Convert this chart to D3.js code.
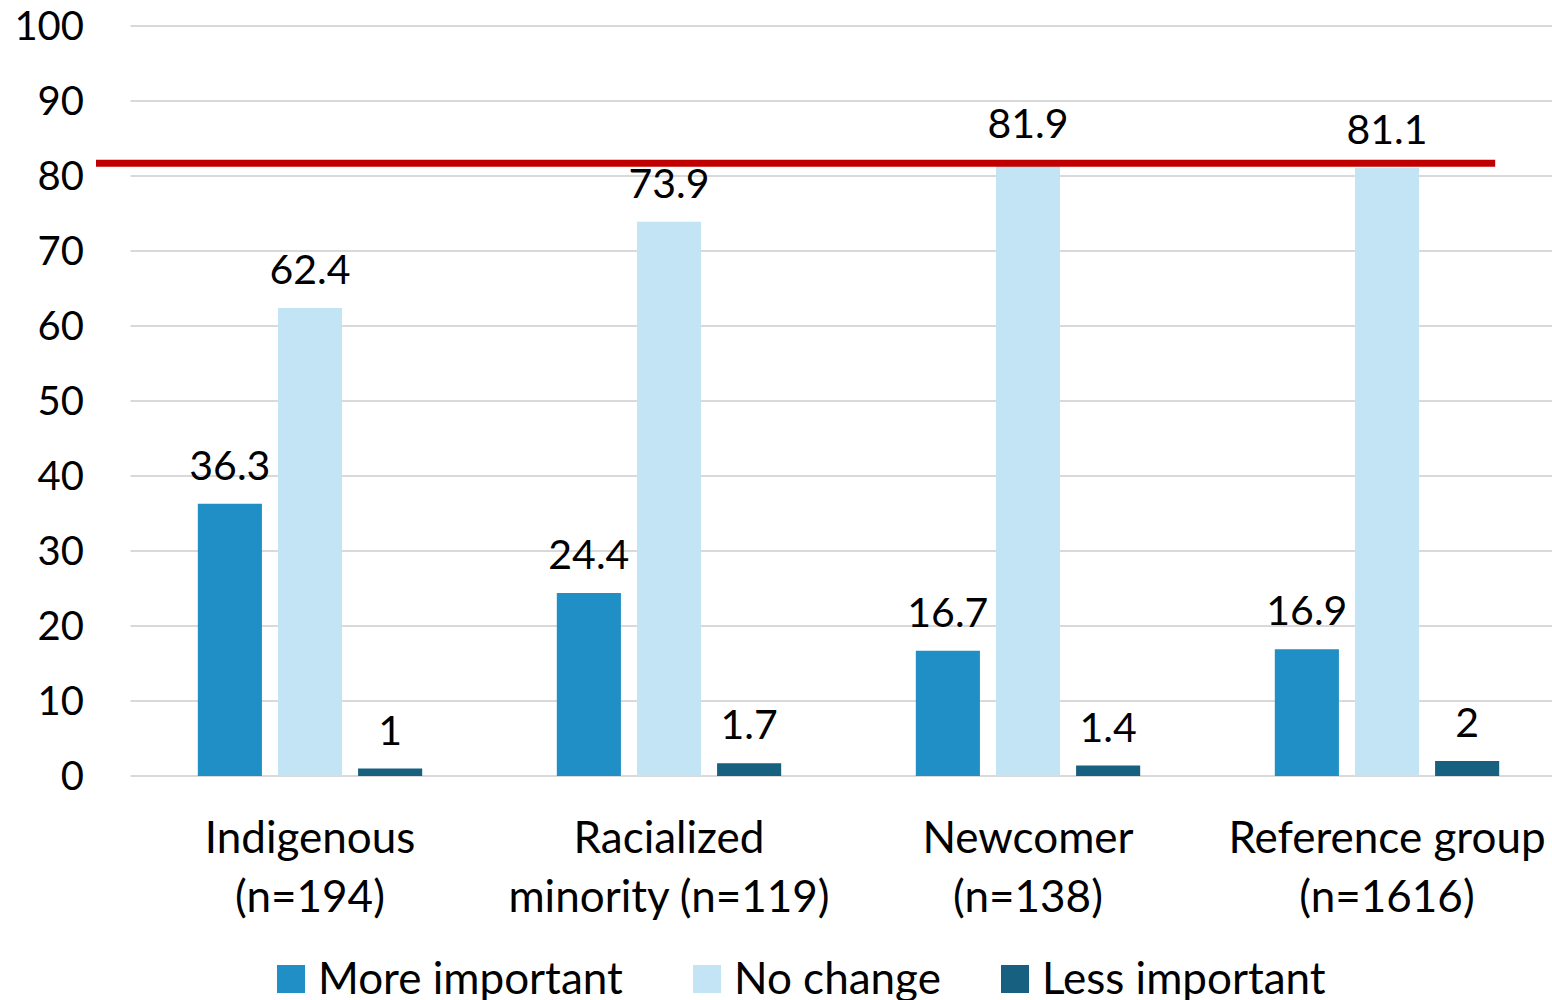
<!DOCTYPE html>
<html><head><meta charset="utf-8">
<script src="https://cdn.jsdelivr.net/npm/d3@7"></script>
<style>
body{margin:0;background:#fff;}
text{font-family:Lato,"Open Sans",sans-serif;fill:#000;}
</style></head>
<body><svg id="c" width="1552" height="1000"></svg>
<script>
const categories = [["Indigenous","(n=194)"],["Racialized","minority (n=119)"],["Newcomer","(n=138)"],["Reference group","(n=1616)"]];
const seriesNames = ["More important","No change","Less important"];
const moreImportant = [36.3, 24.4, 16.7, 16.9];
const noChange = [62.4, 73.9, 81.9, 81.1];
const lessImportant = [1, 1.7, 1.4, 2];
const yTicks = [0,10,20,30,40,50,60,70,80,90,100];
const referenceValue = 81.7;
const colors = ["#1F8FC5","#C2E4F4","#17607F"];

const series = [moreImportant, noChange, lessImportant];
const svg = d3.select("#c");
const m = {left:130.5, top:26, bottom:776};
const x = d3.scaleBand().domain(d3.range(categories.length)).range([m.left, m.left + 359*4]).padding(0);
const xi = d3.scaleBand().domain(d3.range(series.length)).range([0, x.bandwidth()]).paddingInner(0.2).paddingOuter(0.84);
const y = d3.scaleLinear().domain([0,100]).range([m.bottom, m.top]);

// gridlines
svg.append("g").selectAll("line").data(yTicks).join("line")
  .attr("x1", m.left).attr("x2", 1552)
  .attr("y1", d=>y(d)).attr("y2", d=>y(d))
  .attr("stroke", "#D9D9D9").attr("stroke-width", 2);

// y labels
svg.append("g").selectAll("text").data(yTicks).join("text")
  .attr("x", 84).attr("y", d=>y(d)).attr("dy","0.36em")
  .attr("text-anchor","end").attr("font-size",40).text(d=>d);

// bars
series.forEach((s, si) => {
  const g = svg.append("g");
  g.selectAll("rect").data(s).join("rect")
    .attr("x", (d,i)=>x(i)+xi(si)).attr("width", xi.bandwidth())
    .attr("y", d=>y(d)).attr("height", d=>y(0)-y(d))
    .attr("fill", colors[si]);
  g.selectAll("text").data(s).join("text")
    .attr("x", (d,i)=>x(i)+xi(si)+xi.bandwidth()/2)
    .attr("y", d=>y(d)-24)
    .attr("text-anchor","middle").attr("font-size",41)
    .text(d=>d);
});

// reference line
const lastRight = x(categories.length-1) + xi(series.length-1) + xi.bandwidth();
svg.append("line")
  .attr("x1", m.left-34.5).attr("x2", lastRight-4)
  .attr("y1", y(referenceValue)).attr("y2", y(referenceValue))
  .attr("stroke","#C00000").attr("stroke-width",7);

// category labels
const cat = svg.append("g").selectAll("text").data(categories).join("text")
  .attr("text-anchor","middle").attr("font-size",44);
cat.each(function(d,i){
  const t = d3.select(this);
  d.forEach((line, li) => {
    t.append("tspan").attr("x", x(i)+x.bandwidth()/2).attr("y", 853 + li*59).text(line);
  });
});

// legend
const legX = [277, 693, 1001];
const lg = svg.append("g").selectAll("g").data(seriesNames).join("g")
  .attr("transform",(d,i)=>`translate(${legX[i]},965)`);
lg.append("rect").attr("width",28).attr("height",28).attr("fill",(d,i)=>colors[i]);
lg.append("text").attr("x",41).attr("y",29).attr("font-size",44).text(d=>d);
</script></body></html>
